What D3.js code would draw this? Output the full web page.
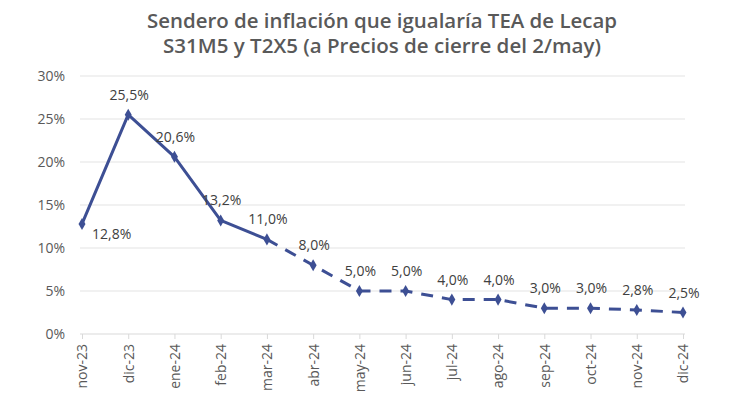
<!DOCTYPE html>
<html><head><meta charset="utf-8">
<script src="https://cdn.jsdelivr.net/npm/d3@7/dist/d3.min.js"></script>
<style>body{margin:0;background:#fff;} svg{display:block;}</style>
</head><body>
<svg id="c" width="730" height="406"></svg>
<script>
const categories = ["nov-23","dic-23","ene-24","feb-24","mar-24","abr-24","may-24","jun-24","jul-24","ago-24","sep-24","oct-24","nov-24","dic-24"];
const values = [12.8,25.5,20.6,13.2,11.0,8.0,5.0,5.0,4.0,4.0,3.0,3.0,2.8,2.5];
const yTicks = [0,5,10,15,20,25,30];
const solidUntil = "mar-24";
const titleLines = ["Sendero de inflación que igualaría TEA de Lecap","S31M5 y T2X5 (a Precios de cierre del 2/may)"];

const svg = d3.select("#c");
const W = 730, H = 406;
const m = {left:82, right:47, top:76, bottom:72};
const x = d3.scalePoint().domain(categories).range([m.left, W - m.right]);
const y = d3.scaleLinear().domain([0,30]).range([H - m.bottom, m.top]);
const color = "#3D4F94";
const fmt = v => v.toFixed(1).replace(".", ",") + "%";
const font = "'Open Sans', 'Liberation Sans', sans-serif";

svg.append("g").selectAll("text").data(titleLines).join("text")
  .attr("x", 382).attr("y", (d,i)=>28 + i*25)
  .attr("text-anchor","middle")
  .attr("font-family",font)
  .attr("font-weight","600").attr("font-size",19.5).attr("fill","#595959")
  .attr("textLength", (d,i)=> i===0 ? 470 : 438).attr("lengthAdjust","spacingAndGlyphs")
  .text(d=>d);

// gridlines
svg.append("g").selectAll("line").data(yTicks.filter(t=>t>0)).join("line")
  .attr("x1", m.left - 2).attr("x2", W - m.right + 2)
  .attr("y1", d=>y(d)).attr("y2", d=>y(d))
  .attr("stroke","#e3e3e3").attr("stroke-width",1);

// y axis labels
const ya = svg.append("g").attr("transform",`translate(${m.left-14},0)`)
  .call(d3.axisLeft(y).tickValues(yTicks).tickSize(0).tickFormat(d=>d+"%"));
ya.select(".domain").remove();
ya.selectAll("text").attr("font-family",font)
  .attr("font-size",14).attr("fill","#595959");

// x axis
const xa = svg.append("g").attr("transform",`translate(0,${y(0)})`)
  .call(d3.axisBottom(x).tickSize(5).tickSizeOuter(0));
xa.select(".domain").attr("stroke","#d9d9d9").attr("d",`M${m.left-2},0H${W-m.right+2}`);
xa.selectAll(".tick line").attr("stroke","#d9d9d9");
xa.selectAll("text")
  .attr("font-family",font)
  .attr("font-size",14).attr("fill","#595959")
  .attr("transform","rotate(-90)")
  .attr("text-anchor","end").attr("x",-10).attr("y",0).attr("dy","0.35em");

const pts = categories.map((c,i)=>({c, v:values[i]}));
const si = categories.indexOf(solidUntil);
const line = d3.line().x(d=>x(d.c)).y(d=>y(d.v));
svg.append("path").datum(pts.slice(0, si+1)).attr("d", line)
  .attr("fill","none").attr("stroke",color).attr("stroke-width",3).attr("stroke-linejoin","round");
svg.append("path").datum(pts.slice(si)).attr("d", line)
  .attr("fill","none").attr("stroke",color).attr("stroke-width",3)
  .attr("stroke-dasharray","12,9");

svg.append("g").selectAll("path").data(pts).join("path")
  .attr("transform", d=>`translate(${x(d.c)},${y(d.v)})`)
  .attr("d", d3.symbol(d3.symbolDiamond, 42))
  .attr("fill", color);

svg.append("g").selectAll("text").data(pts).join("text")
  .attr("x", (d,i)=> i===0 ? x(d.c)+10 : x(d.c) + 1)
  .attr("y", (d,i)=> i===0 ? y(d.v)+15 : y(d.v)-15)
  .attr("text-anchor", (d,i)=> i===0 ? "start" : "middle")
  .attr("font-family",font)
  .attr("font-size",14).attr("fill","#404040")
  .text(d=>fmt(d.v));
</script>
</body></html>
